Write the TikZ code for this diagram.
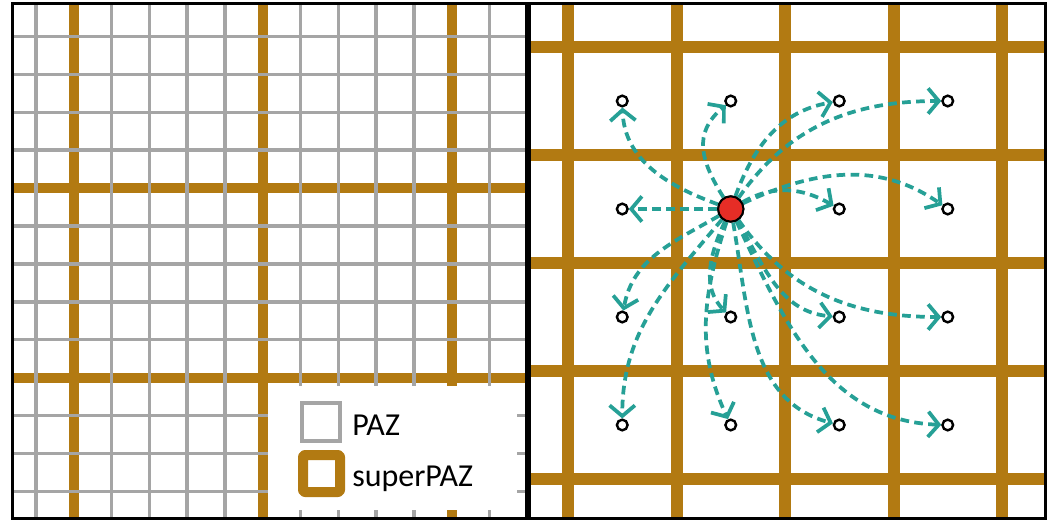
\documentclass[tikz,border=0pt]{standalone}
\usepackage{fontspec}
\setmainfont{Carlito}
\usetikzlibrary{arrows.meta}
\definecolor{gold}{RGB}{178,122,18}
\definecolor{gridgrey}{RGB}{165,165,165}
\definecolor{flowteal}{RGB}{38,160,150}
\definecolor{srcred}{RGB}{230,45,38}
\begin{document}
\begin{tikzpicture}[x=0.75pt,y=0.75pt,
  pazline/.style={draw=gridgrey,line width=2.6pt},
  goldthin/.style={draw=gold,line width=7.5pt},
  goldthick/.style={draw=gold,line width=9pt},
  frame/.style={draw=black,line width=2.25pt},
  dot/.style={circle,draw=black,line width=1.8pt,fill=white,inner sep=0pt,minimum size=8pt},
  src/.style={circle,draw=black,line width=1.5pt,fill=srcred,inner sep=0pt,minimum size=19pt},
  flow/.style={draw=flowteal,line width=2.8pt,dash pattern=on 6.5pt off 4pt,
    -{Straight Barb[length=8pt,width=19pt]}},
  legtext/.style={font=\fontsize{24}{28}\selectfont,inner sep=0pt,anchor=base west}]
\useasboundingbox (0,0) rectangle (1052,-520);
\fill[white] (0,0) rectangle (1052,-520);

% ---- left panel: fine PAZ grid with superPAZ lines ----
\begin{scope}
  \clip (12,-4) rectangle (528,-518);
  \foreach \x in {73.8,262.8,451.8} \draw[goldthin] (\x,-4) -- (\x,-518);
  \foreach \y in {188.1,377.6} \draw[goldthin] (12,-\y) -- (528,-\y);
  \foreach \k in {0,2,3,4,5,7,8,9,10,12,13}{
    \pgfmathsetmacro{\xx}{36+37.8*\k}
    \draw[pazline] (\xx,-4) -- (\xx,-518);}
  \foreach \k in {0,1,2,3,5,6,7,8,10,11,12}{
    \pgfmathsetmacro{\yy}{36.5+37.9*\k}
    \draw[pazline] (12,-\yy) -- (528,-\yy);}
  % legend
  \fill[white] (268,-386) rectangle (517,-510);
\end{scope}
\draw[pazline] (302,-403) rectangle (340,-441);
\draw[draw=gold,line width=7.5pt,rounded corners=1.5pt,line join=round] (303,-455) rectangle (340,-492);
\node[legtext] (lpaz) at (352,-435) {PAZ};
\node[legtext] (lsuper) at (352,-486) {superPAZ};

% ---- right panel: superPAZ grid ----
\begin{scope}
  \clip (528,-4) rectangle (1045,-518);
  \foreach \x in {568,676.5,785,893.5,1002} \draw[goldthick] (\x,-4) -- (\x,-518);
  \foreach \y in {47,155,263,371,479} \draw[goldthick] (528,-\y) -- (1045,-\y);
\end{scope}

% frames
\draw[frame] (12,-4) rectangle (1045,-518);
\draw[draw=black,line width=4pt] (528,-4) -- (528,-518);

% ---- cell centres ----
\node[dot] (d11) at (622.25,-101) {};
\node[dot] (d21) at (730.75,-101) {};
\node[dot] (d31) at (839.25,-101) {};
\node[dot] (d41) at (947.75,-101) {};
\node[dot] (d12) at (622.25,-209) {};
\node[dot] (d32) at (839.25,-209) {};
\node[dot] (d42) at (947.75,-209) {};
\node[dot] (d13) at (622.25,-317) {};
\node[dot] (d23) at (730.75,-317) {};
\node[dot] (d33) at (839.25,-317) {};
\node[dot] (d43) at (947.75,-317) {};
\node[dot] (d14) at (622.25,-425) {};
\node[dot] (d24) at (730.75,-425) {};
\node[dot] (d34) at (839.25,-425) {};
\node[dot] (d44) at (947.75,-425) {};
\node[src] (r) at (730.75,-209) {};

% ---- flows out of the source cell ----
\draw[flow] (r) -- (d12);
\draw[flow] (r) to[out=160,in=-88] (d11);
\draw[flow] (r) to[out=122,in=-140,looseness=1.2] (d21);
\draw[flow] (r) to[out=70,in=190] (d31);
\draw[flow] (r) to[out=55,in=180] (d41);
\draw[flow] (r) to[out=30,in=150] (d32);
\draw[flow] (r) to[out=25,in=145] (d42);
\draw[flow] (r) to[out=-150,in=80] (d13);
\draw[flow] (r) to[out=-130,in=90] (d14);
\draw[flow] (r) to[out=-115,in=135] (d23);
\draw[flow] (r) to[out=-108,in=115] (d24);
\draw[flow] (r) to[out=-60,in=175] (d33);
\draw[flow] (r) to[out=-55,in=180] (d43);
\draw[flow] (r) to[out=-80,in=165] (d34);
\draw[flow] (r) to[out=-65,in=178] (d44);
\node[src] at (r) {};
\end{tikzpicture}
\end{document}
